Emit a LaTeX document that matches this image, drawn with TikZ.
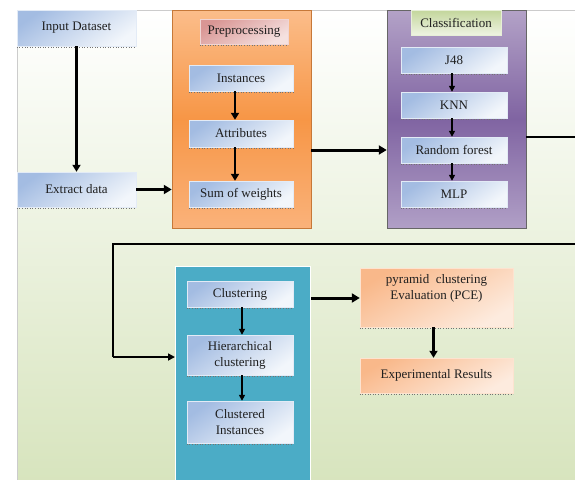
\documentclass[tikz,border=0pt]{standalone}
\usepackage{fontspec}
\setmainfont{Liberation Serif}
\usetikzlibrary{arrows.meta}
\definecolor{bgbot}{HTML}{D7E4BD}
\definecolor{boxA}{HTML}{A3BCE2}
\definecolor{boxB}{HTML}{F2F6FB}
\definecolor{orT}{HTML}{FBBD8A}
\definecolor{orM}{HTML}{F79646}
\definecolor{orB}{HTML}{FAB27A}
\definecolor{puT}{HTML}{B3A2C7}
\definecolor{puM}{HTML}{8064A2}
\definecolor{puB}{HTML}{B09FC6}
\definecolor{teal}{HTML}{4BACC6}
\definecolor{peA}{HTML}{F9B88A}
\definecolor{peB}{HTML}{FDEBDE}
\definecolor{pkA}{HTML}{D99694}
\definecolor{pkB}{HTML}{F5E1E0}
\definecolor{grA}{HTML}{C3D69B}
\definecolor{grB}{HTML}{EEF3E2}
\tikzset{
  txt/.style={font=\fontsize{13}{16}\selectfont, text=black!88, align=center},
  bluebox/.style={txt, inner sep=0pt, top color=boxA, bottom color=boxB, shading angle=35, draw=white!70!boxA, line width=0.4pt},
  peachbox/.style={txt, inner sep=0pt, top color=peA, bottom color=peB, shading angle=30, draw=white!60!peA, line width=0.4pt},
  panel/.style={inner sep=0pt},
  thickarr/.style={line width=3pt, -{Triangle[length=8pt,width=9pt]}},
  midarr/.style={line width=2.4pt, -{Triangle[length=7pt,width=8pt]}},
  thinarr/.style={line width=1.6pt, -{Triangle[length=6pt,width=6pt]}},
  conn/.style={line width=1.6pt},
}
\begin{document}
\begin{tikzpicture}[x=1pt,y=-1pt]
\clip (0,0) rectangle (575,479);
\fill[white] (0,0) rectangle (575,479);
% background
\node[panel, minimum width=570pt, minimum height=475pt, top color=white, bottom color=bgbot, draw=black!20, line width=0.4pt, anchor=north west] (bg) at (17,10) {};
% input column
\node[bluebox, minimum width=119pt, minimum height=36pt] (inputds) at (76.5,28) {Input Dataset};
\node[bluebox, minimum width=119pt, minimum height=35pt] (extract) at (76.5,189.5) {Extract data};
% preprocessing panel
\node[panel, minimum width=139pt, minimum height=218pt, top color=orT, bottom color=orB, middle color=orM, draw=orM!80!black, line width=0.5pt] (prepanel) at (241.5,119) {};
\node[txt, inner sep=0pt, minimum width=88pt, minimum height=25pt, top color=pkA, bottom color=pkB, shading angle=30, draw=white!60!pkA, line width=0.4pt] (prelabel) at (244,31.5) {Preprocessing};
\node[bluebox, minimum width=104pt, minimum height=26pt] (inst) at (241,78) {Instances};
\node[bluebox, minimum width=104pt, minimum height=27pt] (attr) at (241,133.5) {Attributes};
\node[bluebox, minimum width=104pt, minimum height=26pt] (sumw) at (241,194) {Sum of weights};
% classification panel
\node[panel, minimum width=139pt, minimum height=218pt, top color=puT, bottom color=puB, middle color=puM, draw=black!60, line width=0.5pt] (clspanel) at (456.5,119) {};
\node[txt, inner sep=0pt, minimum width=90pt, minimum height=25pt, top color=grA, bottom color=grB, draw=white!60!grA, line width=0.4pt] (clslabel) at (456,22.5) {Classification};
\node[bluebox, minimum width=106pt, minimum height=26pt] (j48) at (454,60) {J48};
\node[bluebox, minimum width=106pt, minimum height=26pt] (knn) at (454,105) {KNN};
\node[bluebox, minimum width=106pt, minimum height=26pt] (rf) at (454,150) {Random forest};
\node[bluebox, minimum width=106pt, minimum height=26pt] (mlp) at (454,194) {MLP};
% clustering panel
\node[panel, minimum width=135pt, minimum height=220pt, fill=teal, draw=white, line width=1pt, anchor=north west] (clupanel) at (175,266) {};
\node[bluebox, minimum width=106pt, minimum height=26pt] (clust) at (240,294) {Clustering};
\node[bluebox, minimum width=106pt, minimum height=40pt] (hier) at (240,355) {Hierarchical\\clustering};
\node[bluebox, minimum width=106pt, minimum height=42pt] (cinst) at (240,422) {Clustered\\Instances};
% evaluation
\node[peachbox, minimum width=153pt, minimum height=59pt] (pce) at (436.5,297.5) {pyramid\ \ clustering\\Evaluation (PCE)\\[6pt]\mbox{}};
\node[peachbox, minimum width=153pt, minimum height=35pt] (exp) at (436.5,375.5) {Experimental Results};
% dotted underlines
\foreach \n in {inputds,extract,prelabel,inst,attr,sumw,j48,knn,rf,mlp,clust,hier,cinst,pce,exp}
  \draw[black!55, dotted, line width=0.6pt] ([yshift=-0.8pt]\n.south west) -- ([yshift=-0.8pt]\n.south east);
% arrows
\draw[midarr] (inputds) -- (extract);
\draw[thickarr] (extract.east) -- (prepanel.west |- extract.east);
\draw[midarr] ([xshift=-6pt]inst.south) -- ([xshift=-6pt]attr.north);
\draw[midarr] ([xshift=-6pt]attr.south) -- ([xshift=-6pt]sumw.north);
\draw[thickarr] (prepanel.east |- 0,150) -- (clspanel.west |- 0,150);
\draw[thinarr] ([xshift=-2pt]j48.south) -- ([xshift=-2pt]knn.north);
\draw[thinarr] ([xshift=-2pt]knn.south) -- ([xshift=-2pt]rf.north);
\draw[thinarr] ([xshift=-2pt]rf.south) -- ([xshift=-2pt]mlp.north);
\coordinate (r1) at (590,137);
\coordinate (r2) at (590,244);
\coordinate (l1) at (113,244);
\coordinate (l2) at (113,357);
\draw[conn] (clspanel.east |- r1) -- (r1) -- (r2) -- (l1) -- (l2);
\draw[conn, -{Triangle[length=7pt,width=7pt]}] (l2) -- (clupanel.west |- l2);
\draw[thinarr] ([xshift=2pt]clust.south) -- ([xshift=2pt]hier.north);
\draw[thinarr] ([xshift=2pt]hier.south) -- ([xshift=2pt]cinst.north);
\draw[thickarr] (clupanel.east |- 0,298) -- (pce.west |- 0,298);
\draw[midarr] ([xshift=-3pt]pce.south) -- ([xshift=-3pt]exp.north);
\end{tikzpicture}
\end{document}
